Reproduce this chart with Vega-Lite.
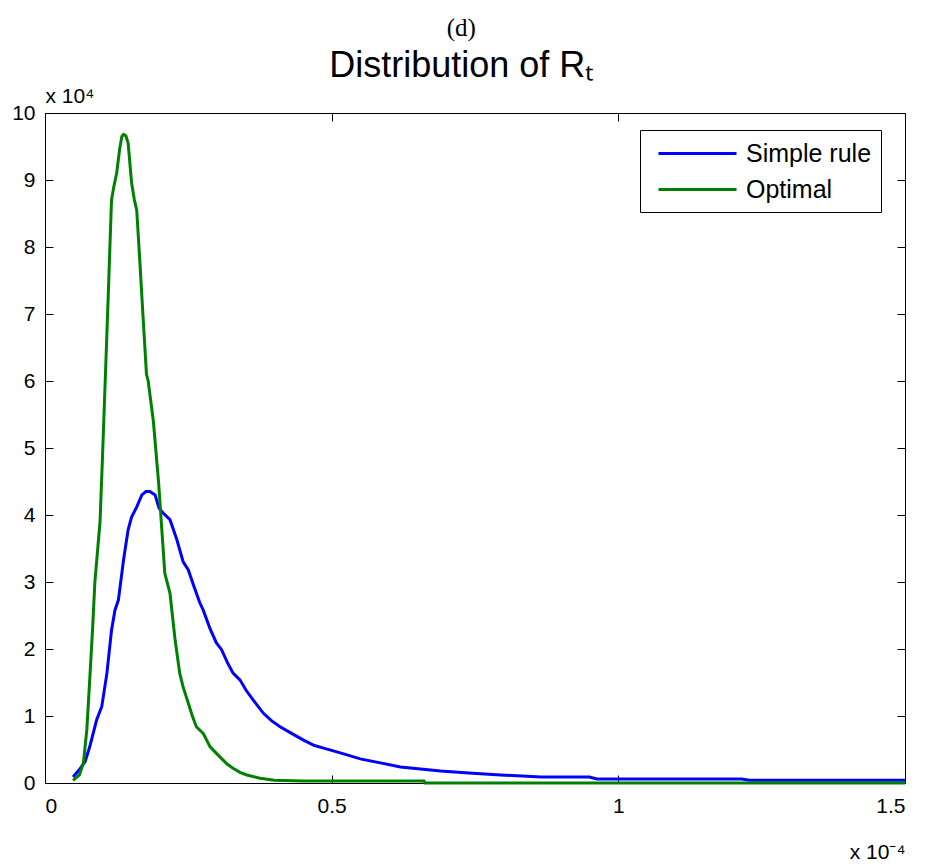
{
  "$schema": "https://vega.github.io/schema/vega-lite/v6.json",
  "width": 860,
  "height": 670,
  "autosize": {"type": "none"},
  "padding": {"left": 45, "top": 113, "right": 24, "bottom": 84},
  "background": "white",
  "title": {
    "text": "(d)",
    "subtitle": "Distribution of Rₜ",
    "anchor": "middle",
    "frame": "bounds",
    "font": "Liberation Serif",
    "fontSize": 25,
    "fontWeight": "normal",
    "color": "#000",
    "subtitleFont": "Liberation Sans",
    "subtitleFontSize": 36,
    "subtitleColor": "#000",
    "subtitlePadding": 8,
    "offset": 1
  },
  "config": {
    "view": {"stroke": "#000", "strokeWidth": 1},
    "axis": {
      "domain": false,
      "grid": false,
      "ticks": true,
      "tickColor": "#000",
      "tickSize": -8,
      "labelFont": "Liberation Sans",
      "labelFontSize": 21,
      "labelColor": "#000",
      "titleFont": "Liberation Sans",
      "titleFontSize": 21,
      "titleFontWeight": "normal",
      "titleColor": "#000"
    }
  },
  "data": {
    "values": [
      {"x": 0.049, "y": 0.09, "series": "Simple rule"},
      {"x": 0.060, "y": 0.2, "series": "Simple rule"},
      {"x": 0.070, "y": 0.32, "series": "Simple rule"},
      {"x": 0.078, "y": 0.54, "series": "Simple rule"},
      {"x": 0.090, "y": 0.94, "series": "Simple rule"},
      {"x": 0.099, "y": 1.14, "series": "Simple rule"},
      {"x": 0.108, "y": 1.64, "series": "Simple rule"},
      {"x": 0.116, "y": 2.28, "series": "Simple rule"},
      {"x": 0.122, "y": 2.58, "series": "Simple rule"},
      {"x": 0.128, "y": 2.73, "series": "Simple rule"},
      {"x": 0.137, "y": 3.33, "series": "Simple rule"},
      {"x": 0.145, "y": 3.78, "series": "Simple rule"},
      {"x": 0.151, "y": 3.97, "series": "Simple rule"},
      {"x": 0.160, "y": 4.12, "series": "Simple rule"},
      {"x": 0.169, "y": 4.3, "series": "Simple rule"},
      {"x": 0.176, "y": 4.35, "series": "Simple rule"},
      {"x": 0.183, "y": 4.35, "series": "Simple rule"},
      {"x": 0.192, "y": 4.3, "series": "Simple rule"},
      {"x": 0.199, "y": 4.1, "series": "Simple rule"},
      {"x": 0.206, "y": 4.03, "series": "Simple rule"},
      {"x": 0.218, "y": 3.93, "series": "Simple rule"},
      {"x": 0.230, "y": 3.63, "series": "Simple rule"},
      {"x": 0.241, "y": 3.3, "series": "Simple rule"},
      {"x": 0.250, "y": 3.18, "series": "Simple rule"},
      {"x": 0.260, "y": 2.93, "series": "Simple rule"},
      {"x": 0.270, "y": 2.69, "series": "Simple rule"},
      {"x": 0.276, "y": 2.58, "series": "Simple rule"},
      {"x": 0.288, "y": 2.3, "series": "Simple rule"},
      {"x": 0.299, "y": 2.09, "series": "Simple rule"},
      {"x": 0.308, "y": 1.99, "series": "Simple rule"},
      {"x": 0.318, "y": 1.8, "series": "Simple rule"},
      {"x": 0.328, "y": 1.64, "series": "Simple rule"},
      {"x": 0.340, "y": 1.54, "series": "Simple rule"},
      {"x": 0.351, "y": 1.38, "series": "Simple rule"},
      {"x": 0.363, "y": 1.24, "series": "Simple rule"},
      {"x": 0.381, "y": 1.04, "series": "Simple rule"},
      {"x": 0.395, "y": 0.93, "series": "Simple rule"},
      {"x": 0.410, "y": 0.84, "series": "Simple rule"},
      {"x": 0.430, "y": 0.74, "series": "Simple rule"},
      {"x": 0.451, "y": 0.64, "series": "Simple rule"},
      {"x": 0.470, "y": 0.56, "series": "Simple rule"},
      {"x": 0.486, "y": 0.52, "series": "Simple rule"},
      {"x": 0.515, "y": 0.45, "series": "Simple rule"},
      {"x": 0.550, "y": 0.36, "series": "Simple rule"},
      {"x": 0.585, "y": 0.30, "series": "Simple rule"},
      {"x": 0.620, "y": 0.24, "series": "Simple rule"},
      {"x": 0.655, "y": 0.21, "series": "Simple rule"},
      {"x": 0.690, "y": 0.18, "series": "Simple rule"},
      {"x": 0.739, "y": 0.15, "series": "Simple rule"},
      {"x": 0.795, "y": 0.12, "series": "Simple rule"},
      {"x": 0.865, "y": 0.09, "series": "Simple rule"},
      {"x": 0.949, "y": 0.09, "series": "Simple rule"},
      {"x": 0.963, "y": 0.06, "series": "Simple rule"},
      {"x": 1.215, "y": 0.06, "series": "Simple rule"},
      {"x": 1.229, "y": 0.04, "series": "Simple rule"},
      {"x": 1.5, "y": 0.04, "series": "Simple rule"},
      {"x": 0.049, "y": 0.04, "series": "Optimal"},
      {"x": 0.060, "y": 0.12, "series": "Optimal"},
      {"x": 0.067, "y": 0.30, "series": "Optimal"},
      {"x": 0.073, "y": 0.8, "series": "Optimal"},
      {"x": 0.078, "y": 1.54, "series": "Optimal"},
      {"x": 0.083, "y": 2.3, "series": "Optimal"},
      {"x": 0.087, "y": 3.0, "series": "Optimal"},
      {"x": 0.092, "y": 3.5, "series": "Optimal"},
      {"x": 0.096, "y": 3.9, "series": "Optimal"},
      {"x": 0.100, "y": 4.8, "series": "Optimal"},
      {"x": 0.105, "y": 6.0, "series": "Optimal"},
      {"x": 0.110, "y": 7.2, "series": "Optimal"},
      {"x": 0.116, "y": 8.7, "series": "Optimal"},
      {"x": 0.120, "y": 8.9, "series": "Optimal"},
      {"x": 0.125, "y": 9.1, "series": "Optimal"},
      {"x": 0.130, "y": 9.45, "series": "Optimal"},
      {"x": 0.134, "y": 9.65, "series": "Optimal"},
      {"x": 0.137, "y": 9.68, "series": "Optimal"},
      {"x": 0.141, "y": 9.66, "series": "Optimal"},
      {"x": 0.145, "y": 9.55, "series": "Optimal"},
      {"x": 0.151, "y": 8.96, "series": "Optimal"},
      {"x": 0.156, "y": 8.7, "series": "Optimal"},
      {"x": 0.160, "y": 8.55, "series": "Optimal"},
      {"x": 0.166, "y": 7.7, "series": "Optimal"},
      {"x": 0.171, "y": 6.96, "series": "Optimal"},
      {"x": 0.177, "y": 6.1, "series": "Optimal"},
      {"x": 0.180, "y": 6.0, "series": "Optimal"},
      {"x": 0.186, "y": 5.6, "series": "Optimal"},
      {"x": 0.189, "y": 5.4, "series": "Optimal"},
      {"x": 0.198, "y": 4.5, "series": "Optimal"},
      {"x": 0.206, "y": 3.5, "series": "Optimal"},
      {"x": 0.209, "y": 3.13, "series": "Optimal"},
      {"x": 0.218, "y": 2.83, "series": "Optimal"},
      {"x": 0.227, "y": 2.13, "series": "Optimal"},
      {"x": 0.235, "y": 1.64, "series": "Optimal"},
      {"x": 0.241, "y": 1.43, "series": "Optimal"},
      {"x": 0.250, "y": 1.19, "series": "Optimal"},
      {"x": 0.257, "y": 1.0, "series": "Optimal"},
      {"x": 0.264, "y": 0.84, "series": "Optimal"},
      {"x": 0.276, "y": 0.74, "series": "Optimal"},
      {"x": 0.288, "y": 0.54, "series": "Optimal"},
      {"x": 0.305, "y": 0.39, "series": "Optimal"},
      {"x": 0.318, "y": 0.28, "series": "Optimal"},
      {"x": 0.328, "y": 0.22, "series": "Optimal"},
      {"x": 0.340, "y": 0.16, "series": "Optimal"},
      {"x": 0.352, "y": 0.12, "series": "Optimal"},
      {"x": 0.375, "y": 0.07, "series": "Optimal"},
      {"x": 0.400, "y": 0.04, "series": "Optimal"},
      {"x": 0.450, "y": 0.03, "series": "Optimal"},
      {"x": 0.661, "y": 0.03, "series": "Optimal"},
      {"x": 0.663, "y": 0.0, "series": "Optimal"},
      {"x": 1.5, "y": 0.0, "series": "Optimal"}
    ]
  },
  "resolve": {"axis": {"x": "independent", "y": "independent"}},
  "layer": [
    {
      "mark": {"type": "line", "strokeWidth": 3, "clip": false},
      "encoding": {
        "x": {
          "field": "x", "type": "quantitative",
          "scale": {"domain": [0, 1.5], "nice": false, "zero": false},
          "axis": {"values": [0, 0.5, 1, 1.5], "format": "~g", "labelPadding": 20, "title": "x 10⁻⁴", "titleAlign": "right", "titleAnchor": null, "titleX": 860, "titleY": 75, "titleBaseline": "alphabetic"}
        },
        "y": {
          "field": "y", "type": "quantitative",
          "scale": {"domain": [0, 10], "nice": false},
          "axis": {"values": [0, 1, 2, 3, 4, 5, 6, 7, 8, 9, 10], "labelPadding": 18, "title": "x 10⁴", "titleAngle": 0, "titleAlign": "left", "titleX": 0, "titleY": -11, "titleBaseline": "alphabetic"}
        },
        "color": {
          "field": "series", "type": "nominal",
          "scale": {"domain": ["Simple rule", "Optimal"], "range": ["#0000ff", "#008000"]},
          "legend": {
            "title": null,
            "orient": "none",
            "legendX": 595,
            "legendY": 17,
            "symbolType": "M-3,0H3",
            "symbolSize": 676,
            "symbolStrokeWidth": 3,
            "symbolOffset": 34,
            "labelFont": "Liberation Sans",
            "labelFontSize": 25,
            "labelColor": "#000",
            "labelOffset": 34,
            "strokeColor": "#000",
            "fillColor": "#fff",
            "padding": 9,
            "rowPadding": 8
          }
        },
        "order": {"field": "x", "type": "quantitative"}
      }
    },
    {
      "mark": {"type": "point", "opacity": 0},
      "encoding": {
        "x": {"field": "x", "type": "quantitative", "axis": {"orient": "top", "values": [0, 0.5, 1, 1.5], "labels": false, "title": null}},
        "y": {"field": "y", "type": "quantitative", "axis": {"orient": "right", "values": [0, 1, 2, 3, 4, 5, 6, 7, 8, 9, 10], "labels": false, "title": null}}
      }
    }
  ]
}
